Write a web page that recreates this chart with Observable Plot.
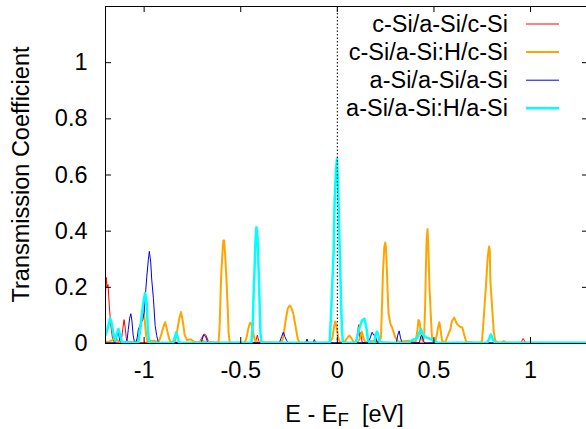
<!DOCTYPE html>
<html><head><meta charset="utf-8">
<script src="https://cdn.jsdelivr.net/npm/d3@7"></script>
<script src="https://cdn.jsdelivr.net/npm/@observablehq/plot@0.6"></script>
<style>
html,body{margin:0;padding:0;background:#fff;overflow:hidden;}
#chart svg{max-width:none !important;}
</style></head><body><div id="chart"></div>
<script>
const seriesNames = ["c-Si/a-Si/c-Si", "c-Si/a-Si:H/c-Si", "a-Si/a-Si/a-Si", "a-Si/a-Si:H/a-Si"];
const xTicks = [-1, -0.5, 0, 0.5, 1];
const xTickLabels = ["-1", "-0.5", "0", "0.5", "1"];
const yTicks = [0, 0.2, 0.4, 0.6, 0.8, 1];
const yTickLabels = ["0", "0.2", "0.4", "0.6", "0.8", "1"];

// [E - EF (eV), transmission]
const cSi_aSi_cSi = [[-1.200,0.17],[-1.196,0.235],[-1.192,0.2],[-1.187,0.21],[-1.180,0.13],[-1.172,0.06],[-1.164,0.02],[-1.155,0.005],[-1.130,0.004],[-1.118,0.01],[-1.111,0.05],[-1.104,0.085],[-1.098,0.055],[-1.091,0.012],[-1.082,0.003],[-1.000,0.003],[-0.975,0.006],[-0.950,0.002],[-0.852,0.002],[-0.842,0.016],[-0.832,0.002],[-0.715,0.003],[-0.702,0.02],[-0.690,0.034],[-0.680,0.03],[-0.670,0.012],[-0.660,0.002],[-0.425,0.002],[-0.414,0.03],[-0.404,0.002],[0.095,0.002],[0.103,0.03],[0.110,0.067],[0.116,0.02],[0.122,0.04],[0.128,0.005],[0.140,0.002],[0.950,0.002],[0.962,0.018],[0.975,0.002],[1.300,0.002]];

const cSi_aSiH_cSi = [[-1.200,0.008],[-1.185,0.004],[-1.165,0.012],[-1.150,0.022],[-1.138,0.01],[-1.120,0.005],[-1.050,0.004],[-1.035,0.01],[-1.022,0.04],[-1.012,0.1],[-1.005,0.125],[-0.998,0.09],[-0.990,0.03],[-0.982,0.008],[-0.950,0.01],[-0.925,0.005],[-0.912,0.03],[-0.900,0.06],[-0.891,0.076],[-0.882,0.05],[-0.870,0.015],[-0.860,0.005],[-0.840,0.01],[-0.830,0.04],[-0.818,0.09],[-0.809,0.112],[-0.800,0.08],[-0.790,0.03],[-0.778,0.012],[-0.760,0.015],[-0.740,0.006],[-0.720,0.004],[-0.700,0.01],[-0.685,0.006],[-0.615,0.003],[-0.610,0.05],[-0.606,0.135],[-0.602,0.23],[-0.595,0.32],[-0.590,0.367],[-0.586,0.367],[-0.581,0.32],[-0.574,0.23],[-0.568,0.135],[-0.563,0.04],[-0.557,0.003],[-0.480,0.003],[-0.470,0.02],[-0.462,0.05],[-0.452,0.074],[-0.445,0.07],[-0.438,0.05],[-0.430,0.02],[-0.422,0.005],[-0.300,0.003],[-0.285,0.01],[-0.278,0.03],[-0.269,0.076],[-0.257,0.124],[-0.247,0.135],[-0.240,0.13],[-0.229,0.109],[-0.217,0.064],[-0.205,0.017],[-0.195,0.003],[-0.040,0.003],[-0.025,0.02],[-0.017,0.06],[-0.011,0.078],[-0.004,0.06],[0.005,0.02],[0.015,0.004],[0.035,0.004],[0.050,0.018],[0.062,0.028],[0.072,0.02],[0.085,0.004],[0.105,0.004],[0.118,0.02],[0.127,0.042],[0.135,0.02],[0.145,0.004],[0.170,0.008],[0.200,0.01],[0.215,0.005],[0.226,0.022],[0.231,0.13],[0.236,0.25],[0.243,0.343],[0.248,0.36],[0.252,0.34],[0.257,0.25],[0.260,0.19],[0.265,0.107],[0.275,0.07],[0.283,0.058],[0.300,0.022],[0.317,0.005],[0.340,0.008],[0.370,0.01],[0.395,0.006],[0.405,0.005],[0.413,0.04],[0.420,0.084],[0.425,0.08],[0.432,0.04],[0.440,0.01],[0.445,0.01],[0.450,0.035],[0.455,0.153],[0.458,0.26],[0.462,0.367],[0.467,0.408],[0.472,0.32],[0.477,0.2],[0.485,0.082],[0.490,0.022],[0.497,0.003],[0.505,0.003],[0.515,0.03],[0.522,0.06],[0.528,0.076],[0.534,0.05],[0.542,0.01],[0.552,0.004],[0.559,0.006],[0.567,0.02],[0.585,0.05],[0.593,0.08],[0.605,0.092],[0.619,0.07],[0.633,0.06],[0.647,0.057],[0.657,0.03],[0.667,0.005],[0.700,0.004],[0.740,0.003],[0.749,0.01],[0.757,0.082],[0.764,0.153],[0.771,0.224],[0.778,0.307],[0.785,0.345],[0.789,0.335],[0.792,0.224],[0.800,0.141],[0.809,0.046],[0.817,0.01],[0.830,0.003],[0.850,0.003],[0.862,0.009],[0.875,0.003],[1.300,0.002]];

const aSi_aSi_aSi = [[-1.200,0.002],[-1.150,0.003],[-1.140,0.03],[-1.133,0.04],[-1.126,0.01],[-1.118,0.002],[-1.090,0.003],[-1.082,0.05],[-1.075,0.09],[-1.069,0.106],[-1.063,0.08],[-1.057,0.03],[-1.050,0.004],[-1.042,0.005],[-1.036,0.02],[-1.030,0.05],[-1.018,0.07],[-1.007,0.085],[-1.000,0.11],[-0.995,0.16],[-0.986,0.24],[-0.978,0.30],[-0.973,0.328],[-0.966,0.29],[-0.961,0.23],[-0.952,0.16],[-0.943,0.064],[-0.935,0.028],[-0.926,0.003],[-0.705,0.003],[-0.692,0.03],[-0.682,0.025],[-0.670,0.003],[-0.300,0.003],[-0.288,0.025],[-0.280,0.04],[-0.272,0.025],[-0.262,0.01],[-0.255,0.003],[-0.165,0.002],[-0.157,0.016],[-0.150,0.002],[-0.127,0.002],[-0.119,0.014],[-0.112,0.002],[0.160,0.003],[0.170,0.02],[0.180,0.04],[0.188,0.03],[0.196,0.03],[0.205,0.005],[0.305,0.003],[0.313,0.03],[0.320,0.045],[0.327,0.02],[0.335,0.003],[0.425,0.003],[0.432,0.025],[0.438,0.03],[0.445,0.01],[0.452,0.002],[1.300,0.002]];

const aSi_aSiH_aSi = [[-1.200,0.03],[-1.190,0.05],[-1.176,0.09],[-1.167,0.07],[-1.159,0.035],[-1.150,0.01],[-1.142,0.035],[-1.133,0.052],[-1.124,0.03],[-1.116,0.005],[-1.030,0.003],[-1.021,0.05],[-1.012,0.1],[-1.004,0.146],[-0.995,0.18],[-0.986,0.14],[-0.981,0.05],[-0.973,0.003],[-0.850,0.003],[-0.840,0.025],[-0.834,0.04],[-0.827,0.025],[-0.820,0.003],[-0.445,0.003],[-0.438,0.064],[-0.433,0.183],[-0.429,0.254],[-0.424,0.36],[-0.419,0.414],[-0.415,0.40],[-0.412,0.36],[-0.407,0.254],[-0.402,0.136],[-0.398,0.04],[-0.393,0.003],[-0.040,0.003],[-0.033,0.094],[-0.026,0.213],[-0.019,0.331],[-0.014,0.509],[-0.007,0.616],[-0.002,0.658],[0.004,0.569],[0.009,0.414],[0.014,0.296],[0.019,0.153],[0.024,0.046],[0.029,0.003],[0.095,0.003],[0.102,0.022],[0.115,0.058],[0.128,0.082],[0.140,0.088],[0.150,0.058],[0.159,0.01],[0.168,0.003],[0.190,0.003],[0.198,0.03],[0.205,0.042],[0.212,0.03],[0.220,0.003],[0.370,0.003],[0.385,0.012],[0.400,0.015],[0.415,0.02],[0.425,0.04],[0.433,0.052],[0.440,0.035],[0.447,0.028],[0.464,0.02],[0.481,0.017],[0.498,0.01],[0.516,0.003],[0.775,0.003],[0.785,0.015],[0.795,0.032],[0.805,0.015],[0.815,0.003],[1.300,0.003]];

const seriesData = [cSi_aSi_cSi, cSi_aSiH_cSi, aSi_aSi_aSi, aSi_aSiH_aSi];
const colors = ["#ff0000", "#ffa500", "#0000e6", "#00ffff"];
const widths = [1, 2, 1, 2.5];

const W = 590, H = 429, ML = 105, MR = 2, MT = 6, MB = 86;
const FONT = "'Liberation Sans', Arial, Helvetica, sans-serif";
const FS = 23.5;
const innerW = W - ML - MR, innerH = H - MT - MB;
const TL = 6;

const plot = Plot.plot({
  width: W, height: H,
  marginLeft: ML, marginRight: MR, marginTop: MT, marginBottom: MB,
  style: {fontFamily: FONT, fontSize: FS + "px", background: "#fff", color: "#000", maxWidth: "none"},
  x: {domain: [-1.2, 1.3]},
  y: {domain: [0, 1.2]},
  marks: [
    ...seriesData.map((pts, i) => Plot.line(pts, {x: d => d[0], y: d => d[1], stroke: colors[i], strokeWidth: widths[i], clip: true})),
    Plot.ruleX([0], {stroke: "#000", strokeWidth: 1, strokeDasharray: "1.5,2"}),
    Plot.tickX(xTicks, {x: d => d, insetTop: innerH - TL, stroke: "#000"}),
    Plot.tickX(xTicks, {x: d => d, insetBottom: innerH - TL, stroke: "#000"}),
    Plot.tickY(yTicks, {y: d => d, insetRight: innerW - TL, stroke: "#000"}),
    Plot.tickY(yTicks, {y: d => d, insetLeft: innerW - TL, stroke: "#000"}),
    Plot.axisX(xTicks, {tickSize: 0, tickPadding: 18, fontSize: FS, label: null,
      tickFormat: d => xTickLabels[xTicks.indexOf(d)]}),
    Plot.axisY(yTicks, {tickSize: 0, tickPadding: 18, fontSize: FS, label: null,
      tickFormat: d => yTickLabels[yTicks.indexOf(d)]}),
    Plot.frame({stroke: "#000", strokeWidth: 1})
  ]
});
plot.style.maxWidth = "none";
document.getElementById("chart").appendChild(plot);

const svg = d3.select(plot);
// Y axis title
svg.append("text")
  .attr("transform", `translate(28.5,${MT + innerH / 2}) rotate(-90)`)
  .attr("text-anchor", "middle")
  .attr("font-family", FONT).attr("font-size", FS).attr("fill", "#000")
  .text("Transmission Coefficient");
// X axis title with subscript
const xt = svg.append("text")
  .attr("x", 344.5).attr("y", 421.5)
  .attr("text-anchor", "middle")
  .attr("font-family", FONT).attr("font-size", FS).attr("fill", "#000")
  .style("white-space", "pre");
xt.append("tspan").text("E - E");
xt.append("tspan").attr("font-size", FS * 0.8).attr("dy", 4.5).text("F");
xt.append("tspan").attr("dy", -4.5).text("  [eV]");

// Legend (inside frame, top right)
const legend = svg.append("g");
seriesNames.forEach((name, i) => {
  const cy = 24 + 28.1 * i;
  legend.append("text")
    .attr("x", 508).attr("y", cy + 7.8)
    .attr("text-anchor", "end")
    .attr("font-family", FONT).attr("font-size", FS).attr("fill", "#000")
    .text(name);
  legend.append("line")
    .attr("x1", 526).attr("x2", 559).attr("y1", cy).attr("y2", cy)
    .attr("stroke", colors[i]).attr("stroke-width", widths[i]);
});
</script></body></html>
